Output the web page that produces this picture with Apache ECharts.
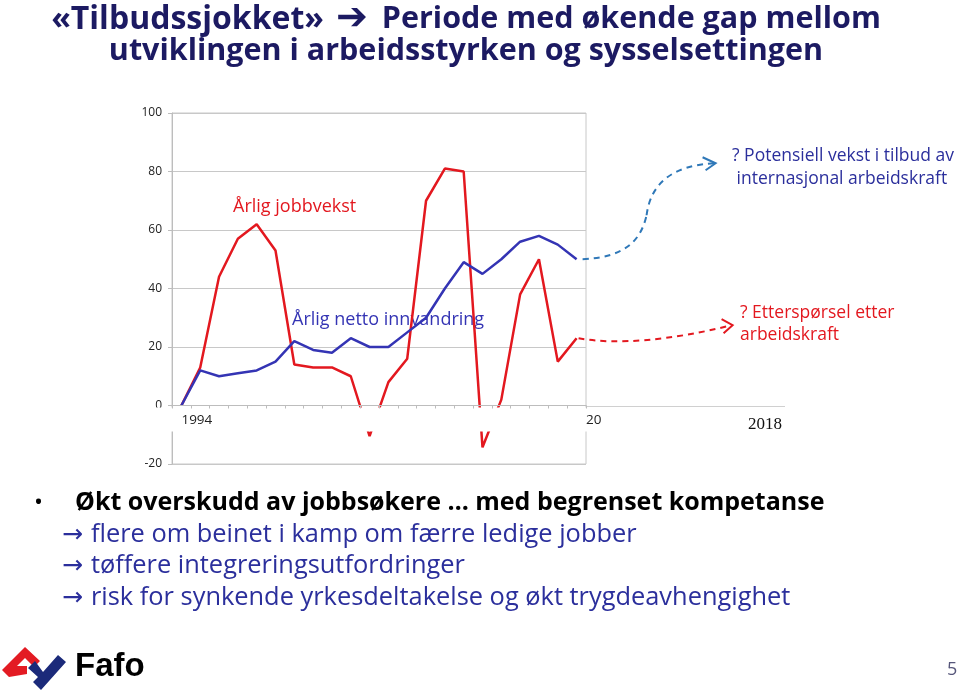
<!DOCTYPE html>
<html>
<head>
<meta charset="utf-8">
<title>Tilbudssjokket</title>
<script src="https://cdn.jsdelivr.net/npm/echarts@6/dist/echarts.min.js"></script>
<style>
  html, body { margin: 0; padding: 0; background: #fff; }
  #main { width: 960px; height: 694px; }
</style>
</head>
<body>
<div id="main"></div>
<script type="text/javascript">
// årstall 1994-2015
var years = ['1994','1995','1996','1997','1998','1999','2000','2001','2002','2003','2004',
             '2005','2006','2007','2008','2009','2010','2011','2012','2013','2014','2015'];
// årlig jobbvekst (1000 personer)
var jobbvekst = [0, 13, 44, 57, 62, 53, 14, 13, 13, 10, -10.5, 8, 16, 70, 81, 80, -14.3, 2, 38, 50, 15, 23];
// årlig netto innvandring
var innvandring = [0, 12, 10, 11, 12, 15, 22, 19, 18, 23, 20, 20, 25, 30, 40, 49, 45, 50, 56, 58, 55, 50];
var yTicks = { min: -20, max: 100, interval: 20 };

var red = '#e3181f';
var blue = '#3434b4';
var navy = '#1c1a62';
var textBlue = '#2b2f9c';

var gridTop = 113, gridBottom = 230;
var plotH = 694 - gridTop - gridBottom;
var zeroOffset = -plotH * (0 - yTicks.min) / (yTicks.max - yTicks.min);

var chart = echarts.init(document.getElementById('main'));

var option = {
    animation: false,
    grid: { left: 172, right: 374, top: gridTop, bottom: gridBottom, show: true, borderColor: '#c8c8c8', borderWidth: 1 },
    xAxis: {
        type: 'category',
        data: years,
        boundaryGap: true,
        position: 'bottom',
        offset: zeroOffset,
        z: 200,
        axisLine: { onZero: false, lineStyle: { color: '#bdbdbd', width: 1 } },
        axisTick: { show: true, interval: 0, length: 3, lineStyle: { color: '#bdbdbd' } },
        axisLabel: {
            interval: function (i) { return i === 0; },
            align: 'left',
            margin: 8,
            fontFamily: 'Open Sans',
            fontSize: 13.5,
            color: '#222'
        }
    },
    yAxis: {
        type: 'value',
        min: yTicks.min,
        max: yTicks.max,
        interval: yTicks.interval,
        axisLine: { show: true, lineStyle: { color: '#bdbdbd' } },
        axisTick: { show: true, length: 4, lineStyle: { color: '#bdbdbd' } },
        splitLine: { lineStyle: { color: '#c8c8c8' } },
        axisLabel: { fontFamily: 'Open Sans', fontSize: 12, color: '#222', margin: 10 }
    },
    series: [
        {
            name: 'Årlig jobbvekst',
            type: 'line',
            data: jobbvekst,
            symbol: 'none',
            lineStyle: { color: red, width: 2.5 },
            z: 3
        },
        {
            name: 'Årlig netto innvandring',
            type: 'line',
            data: innvandring,
            symbol: 'none',
            lineStyle: { color: blue, width: 2.5 },
            z: 4
        }
    ]
};
chart.setOption(option);

var nb = innvandring.length - 1;
var pb = chart.convertToPixel({ xAxisIndex: 0, yAxisIndex: 0 }, [nb, innvandring[nb]]);
var pr = chart.convertToPixel({ xAxisIndex: 0, yAxisIndex: 0 }, [nb, jobbvekst[nb]]);
var p0 = chart.convertToPixel({ xAxisIndex: 0, yAxisIndex: 0 }, [0, 0]);

var dash = [6, 5];
var arrowRich = {
    ar: { fontFamily: 'DejaVu Sans', fontSize: 25, fill: textBlue, padding: [0, 8, 0, 0] },
    t: { fontFamily: 'Open Sans', fontSize: 25.4, fill: textBlue }
};
function bullet(y, s) {
    return { type: 'text', x: 62, y: y, style: { text: '{ar|→}{t|' + s + '}', verticalAlign: 'middle', rich: arrowRich } };
}

chart.setOption({
    graphic: [
        // hvit stripe under nullinjen
        { type: 'rect', z: 100, shape: { x: 150, y: p0[1] + 2, width: 450, height: 24 }, style: { fill: '#fff' } },
        { type: 'text', z: 150, x: 586, y: p0[1] + 8, style: { text: '20', fontFamily: 'Open Sans', fontSize: 13.5, fill: '#222' } },
        { type: 'line', z: 150, shape: { x1: 586, y1: p0[1] + 1, x2: 785, y2: p0[1] + 1 }, style: { stroke: '#d0d0d0', lineWidth: 1 } },
        { type: 'text', z: 150, x: 748, y: p0[1] + 11, style: { text: '2018', fontFamily: 'Liberation Serif', fontSize: 17, fill: '#111' } },

        // serieetiketter
        { type: 'text', z: 1, x: 233, y: 198, style: { text: 'Årlig jobbvekst', fontFamily: 'Open Sans', fontSize: 18, fill: red } },
        { type: 'text', z: 1, x: 292, y: 311, style: { text: 'Årlig netto innvandring', fontFamily: 'Open Sans', fontSize: 18, fill: blue } },

        // stiplete piler
        { type: 'bezierCurve', z: 5, shape: { x1: pb[0] + 6, y1: pb[1], cpx1: pb[0] + 48, cpy1: pb[1] - 2, cpx2: pb[0] + 64, cpy2: pb[1] - 18, x2: pb[0] + 70, y2: pb[1] - 44 },
          style: { stroke: '#2f78b8', lineWidth: 2, lineDash: dash, fill: 'none' } },
        { type: 'bezierCurve', z: 5, shape: { x1: pb[0] + 70, y1: pb[1] - 44, cpx1: pb[0] + 74, cpy1: pb[1] - 76, cpx2: pb[0] + 96, cpy2: pb[1] - 94, x2: pb[0] + 138, y2: pb[1] - 96 },
          style: { stroke: '#2f78b8', lineWidth: 2, lineDash: dash, fill: 'none' } },
        { type: 'polyline', z: 5, shape: { points: [[pb[0] + 126, pb[1] - 102], [pb[0] + 139, pb[1] - 96], [pb[0] + 129, pb[1] - 89]] },
          style: { stroke: '#2f78b8', lineWidth: 2, fill: 'none' } },
        { type: 'bezierCurve', z: 5, shape: { x1: pr[0] + 2, y1: pr[1], cpx1: pr[0] + 40, cpy1: pr[1] + 7, cpx2: pr[0] + 95, cpy2: pr[1] + 2, x2: pr[0] + 155, y2: pr[1] - 13 },
          style: { stroke: red, lineWidth: 2, lineDash: dash, fill: 'none' } },
        { type: 'polyline', z: 5, shape: { points: [[pr[0] + 145, pr[1] - 19], [pr[0] + 156, pr[1] - 13], [pr[0] + 147, pr[1] - 5]] },
          style: { stroke: red, lineWidth: 2, fill: 'none' } },

        // kommentarer
        { type: 'text', x: 732, y: 145, style: { text: '? Potensiell vekst i tilbud av\n internasjonal arbeidskraft', fontFamily: 'Open Sans', fontSize: 17.5, lineHeight: 23, fill: textBlue } },
        { type: 'text', x: 740, y: 302, style: { text: '? Etterspørsel etter\narbeidskraft', fontFamily: 'Open Sans', fontSize: 17.5, lineHeight: 22, fill: red } },

        // tittel
        { type: 'text', x: 466, y: 3, style: {
            text: '{a|«Tilbudssjokket»}{ar|➔}{b|Periode med økende gap mellom}\n{b|utviklingen i arbeidsstyrken og sysselsettingen}',
            align: 'center', fill: navy, lineHeight: 31,
            rich: {
                a: { fontFamily: 'Open Sans', fontSize: 32, fontWeight: 'bold', fill: navy, lineHeight: 33 },
                ar: { fontFamily: 'DejaVu Sans', fontSize: 38, fontWeight: 'bold', fill: navy, lineHeight: 33, padding: [0, 14, 0, 12] },
                b: { fontFamily: 'Open Sans', fontSize: 30.5, fontWeight: 'bold', fill: navy, lineHeight: 31 }
            }
        } },

        // punktliste
        { type: 'text', x: 34, y: 503, style: { text: '•', fontFamily: 'Open Sans', fontSize: 24, fill: '#000', verticalAlign: 'middle' } },
        { type: 'text', x: 75, y: 503, style: { text: 'Økt overskudd av jobbsøkere … med begrenset kompetanse', fontFamily: 'Open Sans', fontWeight: 'bold', fontSize: 25, fill: '#000', verticalAlign: 'middle' } },
        bullet(535, 'flere om beinet i kamp om færre ledige jobber'),
        bullet(566, 'tøffere integreringsutfordringer'),
        bullet(598, 'risk for synkende yrkesdeltakelse og økt trygdeavhengighet'),

        // logo
        { type: 'polygon', shape: { points: [[2, 670], [25, 647], [40, 661], [34, 667], [25, 658], [17, 666], [27, 666], [27, 674], [9, 677]] }, style: { fill: '#e31b23' } },
        { type: 'polygon', shape: { points: [[28, 668], [35, 661], [43, 672], [58, 655], [66, 662], [41, 690], [33, 682], [38, 677]] }, style: { fill: '#1b2a7a' } },
        { type: 'text', x: 75, y: 650, style: { text: 'Fafo', fontFamily: 'Liberation Sans', fontWeight: 'bold', fontSize: 33, fill: '#000' } },
        { type: 'text', x: 947, y: 661, style: { text: '5', fontFamily: 'Open Sans', fontSize: 18, fill: '#56567a' } }
    ]
});
</script>
</body>
</html>
